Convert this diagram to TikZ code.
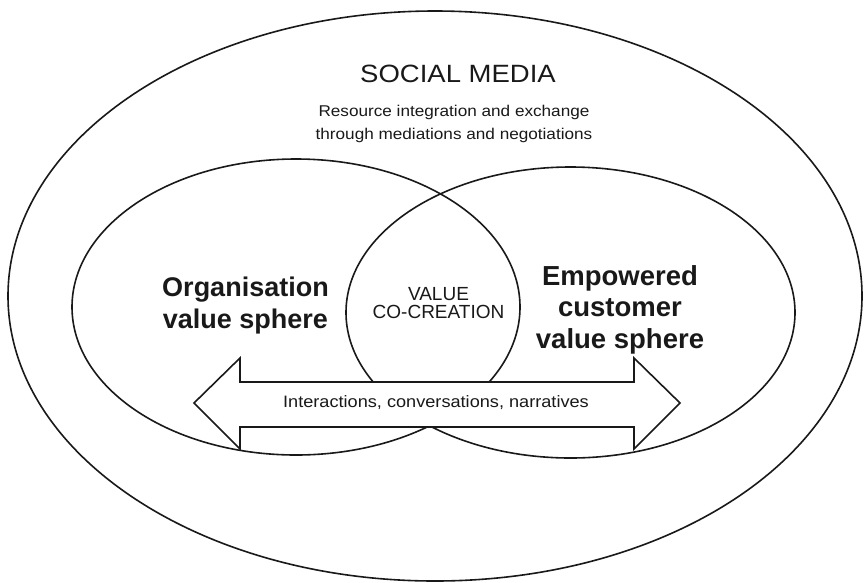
\documentclass[tikz,border=0pt]{standalone}
\usepackage{fontspec}
\setmainfont{Liberation Sans}
\newfontfamily\widefont[FakeStretch=1.1]{Liberation Sans}
\usetikzlibrary{shapes.geometric}
\begin{document}
\begin{tikzpicture}[x=1pt,y=-1pt,
  sphere/.style={draw=black!90, ellipse, inner sep=0pt, line width=1.6pt},
  label/.style={inner sep=0pt, align=center, text=black!90},
  arrowshape/.style={draw=black!90, fill=white, line width=1.6pt, line join=miter}]
\useasboundingbox (0,0) rectangle (864,582);
\node[sphere, minimum width=854pt, minimum height=570pt] (social) at (435,296) {};
\node[sphere, minimum width=448pt, minimum height=296pt] (org) at (296,307) {};
\node[sphere, minimum width=449pt, minimum height=291pt] (cust) at (570.5,312.5) {};
% double arrow
\coordinate (tipL) at (194,403);
\coordinate (tipR) at (680,403);
\draw[arrowshape] (tipL) -- (240,358) -- (240,382) -- (634,382) -- (634,358) -- (tipR)
  -- (634,449) -- (634,427) -- (240,427) -- (240,449) -- cycle;
\node[label, font=\widefont\fontsize{16.5}{20}\selectfont] (inter) at (436,403) {Interactions, conversations, narratives};
\node[label, font=\widefont\fontsize{25}{28}\selectfont] (title) at (458,73.5) {SOCIAL MEDIA};
\node[label, font=\widefont\fontsize{15.6}{23}\selectfont] (res) at (454,124) {Resource integration and exchange\\through mediations and negotiations};
\node[label, font=\fontsize{27}{32}\selectfont\bfseries] (orgt) at (245.5,306) {Organisation\\value sphere};
\node[label, font=\fontsize{27.5}{31.5}\selectfont\bfseries] (custt) at (620,309.5) {Empowered\\customer\\value sphere};
\node[label, font=\fontsize{19}{18}\selectfont] (vcc) at (438.5,303.4) {VALUE\\CO-CREATION};
\end{tikzpicture}
\end{document}
